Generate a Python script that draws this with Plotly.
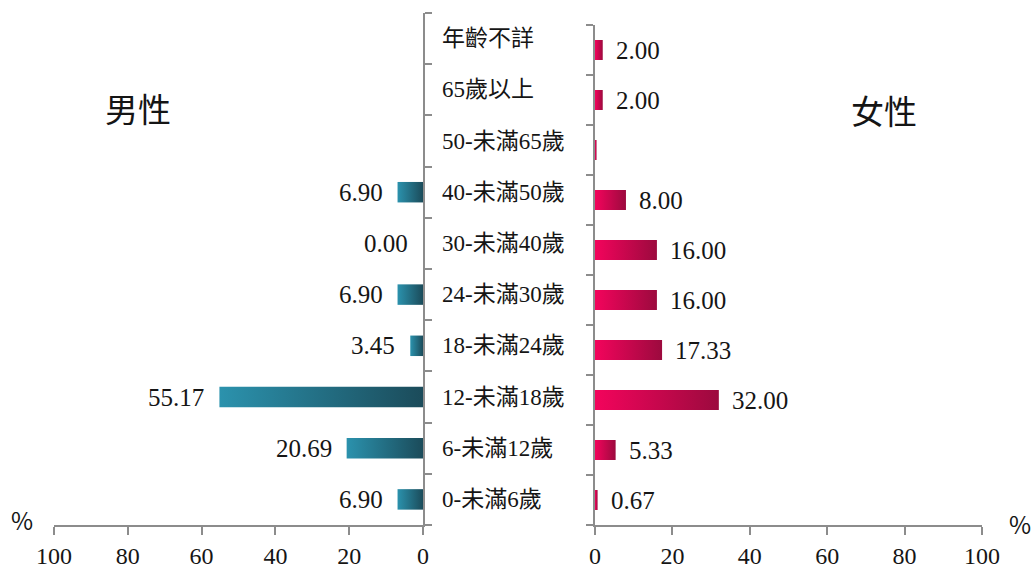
import plotly.graph_objects as go

# Age groups (bottom to top)
categories = ["0-未滿6歲", "6-未滿12歲", "12-未滿18歲", "18-未滿24歲", "24-未滿30歲",
              "30-未滿40歲", "40-未滿50歲", "50-未滿65歲", "65歲以上", "年齡不詳"]

# Percentages by sex
male = [6.90, 20.69, 55.17, 3.45, 6.90, 0.00, 6.90, None, None, None]
female = [0.67, 5.33, 32.00, 17.33, 16.00, 16.00, 8.00, 0.40, 2.00, 2.00]

# Value labels shown beside bars
male_labels = ["6.90", "20.69", "55.17", "3.45", "6.90", "0.00", "6.90", "", "", ""]
female_labels = ["0.67", "5.33", "32.00", "17.33", "16.00", "16.00", "8.00", "", "2.00", "2.00"]

x_ticks = [0, 20, 40, 60, 80, 100]

W, H = 1032, 572
HALF = 0.2  # half bar thickness in category units

SERIF = "Liberation Serif, Times New Roman, serif"
MIXED = "Liberation Serif, Noto Sans CJK TC, serif"
CJK = "Noto Sans CJK TC, sans-serif"
AXIS_GREY = "#8c8c8c"
TEXT = "#151515"

# gradient runs left-to-right on screen
male_scale = [[0, "#2b92ad"], [1, "#1b4b5a"]]
female_scale = [[0, "#f3045c"], [1, "#9c0a3e"]]

fig = go.Figure()


def add_bar(value, idx, xa, ya, scale):
    if value is None or value == 0:
        return
    fig.add_trace(go.Scatter(
        x=[0, value, value, 0, 0],
        y=[idx - HALF, idx - HALF, idx + HALF, idx + HALF, idx - HALF],
        xaxis=xa, yaxis=ya, mode="none", fill="toself",
        fillgradient=dict(type="horizontal", colorscale=scale),
        hoverinfo="skip", showlegend=False,
    ))


for i, v in enumerate(male):
    add_bar(v, i, "x", "y", male_scale)
for i, v in enumerate(female):
    add_bar(v, i, "x2", "y2", female_scale)

annotations = []
for i, (v, t) in enumerate(zip(male, male_labels)):
    if t:
        annotations.append(dict(x=v, y=i, xref="x", yref="y", text=t, showarrow=False,
                                xanchor="right", yanchor="middle", xshift=-13,
                                font=dict(family=SERIF, size=25, color=TEXT)))
for i, (v, t) in enumerate(zip(female, female_labels)):
    if t:
        annotations.append(dict(x=v, y=i, xref="x2", yref="y2", text=t, showarrow=False,
                                xanchor="left", yanchor="middle", xshift=11,
                                font=dict(family=SERIF, size=25, color=TEXT)))
for i, c in enumerate(categories):
    annotations.append(dict(x=440 / W, y=i, xref="paper", yref="y", text=c, showarrow=False,
                            xanchor="left", yanchor="middle",
                            font=dict(family=MIXED, size=23, color=TEXT)))

annotations += [
    dict(x=138 / W, y=1 - 108 / H, xref="paper", yref="paper", text="男性", showarrow=False,
         xanchor="center", yanchor="middle", font=dict(family=CJK, size=33, color=TEXT)),
    dict(x=884 / W, y=1 - 110 / H, xref="paper", yref="paper", text="女性", showarrow=False,
         xanchor="center", yanchor="middle", font=dict(family=CJK, size=33, color=TEXT)),
    dict(x=22 / W, y=1 - 519 / H, xref="paper", yref="paper", text="%", showarrow=False,
         xanchor="center", yanchor="middle", font=dict(family=CJK, size=24, color=TEXT)),
    dict(x=1020 / W, y=1 - 523 / H, xref="paper", yref="paper", text="%", showarrow=False,
         xanchor="center", yanchor="middle", font=dict(family=CJK, size=24, color=TEXT)),
]

x_common = dict(
    tickvals=x_ticks, ticktext=[str(t) for t in x_ticks],
    ticks="outside", ticklen=8, tickwidth=2, tickcolor=AXIS_GREY,
    showline=True, linecolor=AXIS_GREY, linewidth=2,
    showgrid=False, zeroline=False, fixedrange=True, automargin=False,
    tickfont=dict(family=SERIF, size=24, color=TEXT),
)
y_common = dict(
    range=[-0.5, 9.5], tickvals=[k - 0.5 for k in range(11)],
    ticks="outside", ticklen=7, tickwidth=2, tickcolor=AXIS_GREY,
    showline=True, linecolor=AXIS_GREY, linewidth=2, automargin=False,
    showticklabels=False, showgrid=False, zeroline=False, fixedrange=True,
)

fig.update_layout(
    width=W, height=H, autosize=False,
    margin=dict(l=0, r=0, t=0, b=0, autoexpand=False),
    paper_bgcolor="white", plot_bgcolor="white",
    showlegend=False,
    xaxis=dict(domain=[54 / W, 423 / W], range=[100, 0], anchor="y", **x_common),
    yaxis=dict(domain=[1 - 525 / H, 1 - 13 / H], anchor="x", side="right", **y_common),
    xaxis2=dict(domain=[595 / W, 982 / W], range=[0, 100], anchor="y2", **x_common),
    yaxis2=dict(domain=[1 - 525 / H, 1 - 25 / H], anchor="x2", side="left", **y_common),
    annotations=annotations,
)

fig.write_html("out.html")
